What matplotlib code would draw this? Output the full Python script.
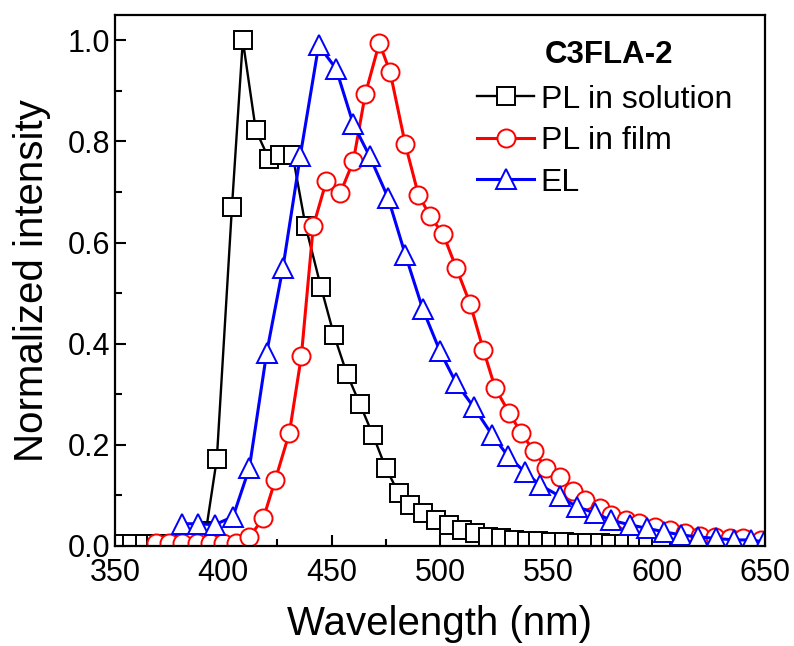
import matplotlib
matplotlib.use("Agg")
import matplotlib.pyplot as plt
from matplotlib.ticker import MultipleLocator

plt.rcParams['font.family'] = ['Liberation Sans', 'DejaVu Sans']

# PL in solution (black squares)
sol_x = [352, 358, 364, 369, 375, 381, 386, 392, 397, 404, 409, 415, 421, 426,
         432, 438, 445, 451, 457, 463, 469, 475, 481, 486, 492, 498, 504, 510,
         516, 522, 528, 534, 540, 545, 551, 557, 563, 568, 574, 579, 585, 591,
         596, 602]
sol_y = [0.003, 0.003, 0.003, 0.003, 0.003, 0.004, 0.008, 0.03, 0.172, 0.671,
         1.0, 0.822, 0.766, 0.773, 0.773, 0.632, 0.513, 0.418, 0.341, 0.281,
         0.22, 0.154, 0.104, 0.081, 0.065, 0.051, 0.042, 0.032, 0.025, 0.017,
         0.015, 0.012, 0.01, 0.009, 0.008, 0.007, 0.006, 0.005, 0.005, 0.004,
         0.004, 0.003, 0.003, 0.003]

# PL in film (red circles)
film_x = [369, 375, 381, 388, 394, 400, 406, 412, 418.5, 424, 430.5, 436, 441.5,
          447.5, 454, 460, 465.5, 472, 477, 484, 490, 495.5, 501.5, 507.5, 514,
          520, 525.5, 532, 537.5, 543.5, 549, 555.5, 561.5, 567, 574, 579, 586,
          592, 599, 606, 613, 620, 627, 634, 640, 648]
film_y = [0.005, 0.005, 0.005, 0.005, 0.005, 0.005, 0.006, 0.018, 0.055, 0.131,
          0.224, 0.375, 0.632, 0.721, 0.698, 0.761, 0.893, 0.995, 0.937, 0.794,
          0.695, 0.652, 0.616, 0.55, 0.478, 0.388, 0.312, 0.263, 0.223, 0.187,
          0.154, 0.137, 0.108, 0.091, 0.075, 0.061, 0.051, 0.045, 0.038, 0.032,
          0.025, 0.02, 0.017, 0.015, 0.015, 0.012]

# EL (blue triangles)
el_x = [381, 388.5, 396, 404.5, 412, 420, 427.5, 435.5, 444, 452, 460, 467.5,
        476, 484, 492, 500, 507.5, 515.5, 524, 531.5, 539, 546, 555.5, 563,
        571.5, 579, 587.5, 595.5, 603.5, 611, 619, 627.5, 635.5, 643.5, 649.5]
el_y = [0.044, 0.044, 0.042, 0.058, 0.154, 0.382, 0.55, 0.771, 0.99, 0.944,
        0.834, 0.771, 0.689, 0.576, 0.469, 0.385, 0.322, 0.275, 0.22, 0.177,
        0.147, 0.121, 0.098, 0.078, 0.065, 0.051, 0.042, 0.035, 0.028, 0.022,
        0.018, 0.015, 0.012, 0.012, 0.008]

fig = plt.figure(figsize=(7.94, 6.46), dpi=100)
ax = fig.add_axes([0.1448, 0.1548, 0.8187, 0.822])

ax.plot(sol_x, sol_y, color='black', lw=1.7, marker='s', ms=12.5,
        mfc='white', mec='black', mew=1.4, label='PL in solution')
ax.plot(film_x, film_y, color='red', lw=2.2, marker='o', ms=13,
        mfc='white', mec='red', mew=1.4, label='PL in film')
ax.plot(el_x, el_y, color='blue', lw=2.2, marker='^', ms=15,
        mfc='white', mec='blue', mew=1.4, label='EL')

ax.set_xlim(350, 650)
ax.set_ylim(0, 1.05)
ax.xaxis.set_major_locator(MultipleLocator(50))
ax.xaxis.set_minor_locator(MultipleLocator(25))
ax.yaxis.set_major_locator(MultipleLocator(0.2))
ax.yaxis.set_minor_locator(MultipleLocator(0.1))
ax.yaxis.set_major_formatter(plt.FormatStrFormatter('%.1f'))
ax.tick_params(which='both', direction='in', top=False, right=False,
               labelsize=22, width=1.5)
ax.tick_params(which='major', length=8)
ax.tick_params(which='minor', length=5)
ax.tick_params(axis='x', pad=9)
for s in ax.spines.values():
    s.set_linewidth(1.6)

ax.set_xlabel('Wavelength (nm)', fontsize=29, labelpad=12)
ax.set_ylabel('Normalized intensity', fontsize=29, labelpad=12)

ax.text(0.76, 0.925, 'C3FLA-2', transform=ax.transAxes, ha='center',
        va='center', fontsize=22.5, fontweight='bold')
ax.legend(loc='upper left', bbox_to_anchor=(0.537, 0.893), frameon=False,
          fontsize=23, handlelength=1.8, handletextpad=0.2,
          labelspacing=0.36, borderaxespad=0)

fig.savefig('out.png', dpi=100)
